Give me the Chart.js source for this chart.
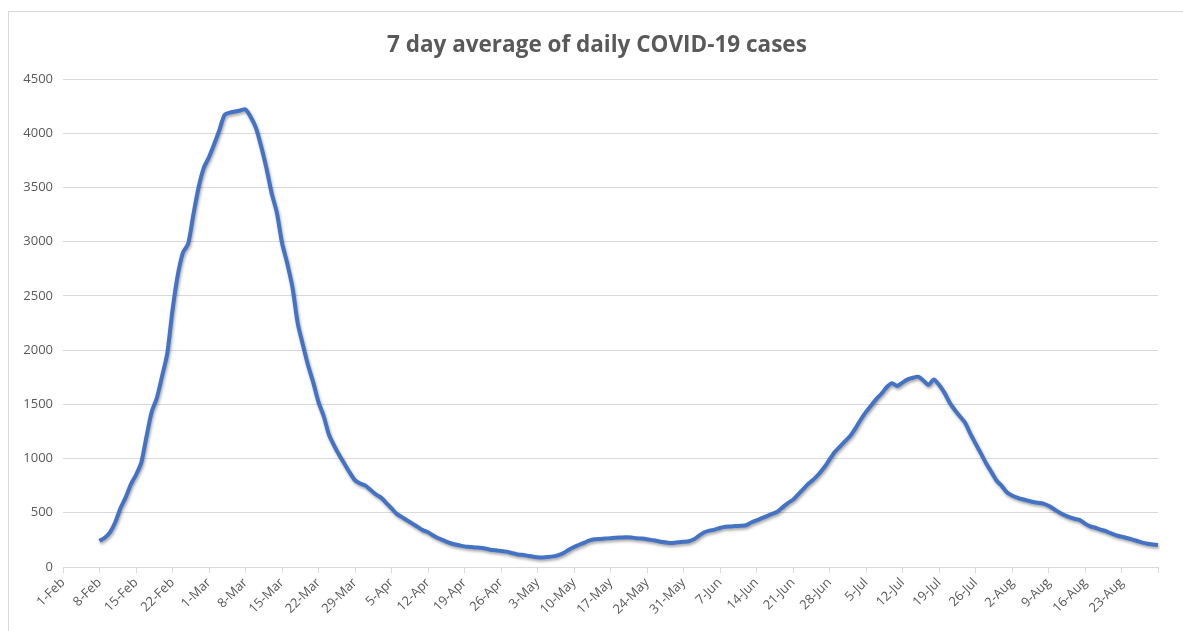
<!DOCTYPE html>
<html>
<head>
<meta charset="utf-8">
<script src="https://cdn.jsdelivr.net/npm/chart.js@4"></script>
<style>
    html, body { margin: 0; padding: 0; background: #fff; }
    #moldura { position: absolute; left: 8px; top: 11px; width: 1200px; height: 640px; border: 1px solid #d9d9d9; box-sizing: border-box; }
    #caixa { position: absolute; left: 0; top: 0; width: 1183px; height: 631px; }
    #titulo { position: absolute; left: 387px; width: 400px; top: 29px; line-height: 30px; text-align: center; white-space: nowrap;
              font-family: 'Open Sans', 'Liberation Sans', sans-serif; font-weight: bold; font-size: 22.5px; color: #595959; }
</style>
</head>
<body>
<div id="moldura"></div>
<div id="caixa"><canvas id="casosChart" width="1183" height="631"></canvas></div>
<div id="titulo">7 day average of daily COVID-19 cases</div>
<script>
const meses = ['Feb', 'Mar', 'Apr', 'May', 'Jun', 'Jul', 'Aug']
const diasPorMes = [28, 31, 30, 31, 30, 31, 30]

// 1-Feb .. 30-Aug, one label per day
const dias = []
meses.forEach((mes, m) => {
    for (let d = 1; d <= diasPorMes[m]; d++) {
        dias.push(d + '-' + mes)
    }
})

// 7 day average, first value on 8-Feb
const semDados = [null, null, null, null, null, null, null]
const mediaFev = [240, 270, 320, 410, 540, 640, 760, 850, 960, 1200, 1430, 1560, 1760, 1970, 2370, 2690, 2900, 2980, 3250, 3500, 3680]
const mediaMar = [3780, 3900, 4030, 4170, 4190, 4200, 4210, 4220, 4150, 4050, 3880, 3680, 3450, 3270, 2990, 2800, 2580, 2250, 2050, 1860, 1700, 1520, 1390, 1220, 1120, 1030, 950, 870, 800, 770, 750]
const mediaAbr = [710, 670, 640, 590, 540, 490, 460, 430, 400, 370, 340, 320, 290, 265, 245, 225, 210, 200, 190, 185, 180, 178, 170, 160, 155, 148, 142, 130, 118, 112]
const mediaMai = [105, 96, 90, 88, 92, 98, 110, 130, 160, 185, 205, 225, 245, 255, 258, 262, 266, 270, 272, 274, 272, 266, 262, 256, 248, 240, 230, 224, 222, 228, 232]
const mediaJun = [238, 255, 290, 320, 335, 345, 360, 372, 374, 378, 380, 385, 410, 430, 450, 470, 490, 510, 550, 590, 620, 670, 720, 770, 810, 860, 920, 990, 1060, 1110]
const mediaJul = [1160, 1210, 1280, 1360, 1430, 1490, 1550, 1600, 1660, 1695, 1670, 1700, 1730, 1745, 1755, 1720, 1680, 1730, 1680, 1610, 1520, 1450, 1390, 1330, 1230, 1140, 1050, 960, 880, 800, 750]
const mediaAgo = [690, 660, 640, 625, 612, 600, 592, 585, 565, 535, 505, 480, 460, 445, 432, 400, 375, 362, 345, 330, 310, 292, 280, 268, 255, 240, 225, 215, 208, 202]

const valores = semDados.concat(mediaFev, mediaMar, mediaAbr, mediaMai, mediaJun, mediaJul, mediaAgo)

const ticksY = [0, 500, 1000, 1500, 2000, 2500, 3000, 3500, 4000, 4500]

const corTexto = '#595959'
const corGrade = '#d9d9d9'
const fonte = "'Open Sans', 'Liberation Sans', sans-serif"

const sombraLinha = {
    id: 'sombraLinha',
    beforeDatasetDraw(chart) {
        const ctx = chart.ctx
        ctx.save()
        ctx.shadowColor = 'rgba(0, 0, 0, 0.35)'
        ctx.shadowBlur = 3
        ctx.shadowOffsetX = 1
        ctx.shadowOffsetY = 2
    },
    afterDatasetDraw(chart) {
        chart.ctx.restore()
    }
}

function renderizarGrafico() {
    const ctx = document.getElementById('casosChart').getContext('2d')

    new Chart(ctx, {
        type: 'line',
        data: {
            labels: dias,
            datasets: [{
                label: '7 day average',
                data: valores,
                borderColor: '#4472c4',
                borderWidth: 4,
                pointRadius: 0,
                tension: 0.25,
                fill: false,
                spanGaps: false
            }]
        },
        options: {
            responsive: false,
            animation: false,
            layout: {
                padding: { left: 10, right: 25, top: 79, bottom: 4 }
            },
            scales: {
                x: {
                    offset: false,
                    border: { display: true, color: corGrade },
                    grid: { drawOnChartArea: false, drawTicks: true, tickLength: 6, color: corGrade },
                    ticks: {
                        autoSkip: false,
                        minRotation: 45,
                        maxRotation: 45,
                        padding: 2,
                        color: corTexto,
                        font: { family: fonte, size: 13 },
                        callback: function (valor, i) {
                            if (i % 7 !== 0) return null
                            if (i >= 210) return ''
                            return dias[i]
                        }
                    },
                    afterFit: function (escala) { escala.height = 60 }
                },
                y: {
                    min: 0,
                    max: 4500,
                    afterBuildTicks: function (escala) {
                        escala.ticks = ticksY.map(v => ({ value: v }))
                    },
                    border: { display: false },
                    grid: { color: corGrade, drawTicks: false, lineWidth: 1 },
                    ticks: {
                        padding: 10,
                        color: corTexto,
                        font: { family: fonte, size: 13 },
                        callback: function (valor) { return String(valor) }
                    },
                    afterFit: function (escala) { escala.width = 53 }
                }
            },
            plugins: {
                legend: { display: false },
                tooltip: { enabled: false },
                title: { display: false }
            }
        },
        plugins: [sombraLinha]
    })
}

renderizarGrafico()
</script>
</body>
</html>
